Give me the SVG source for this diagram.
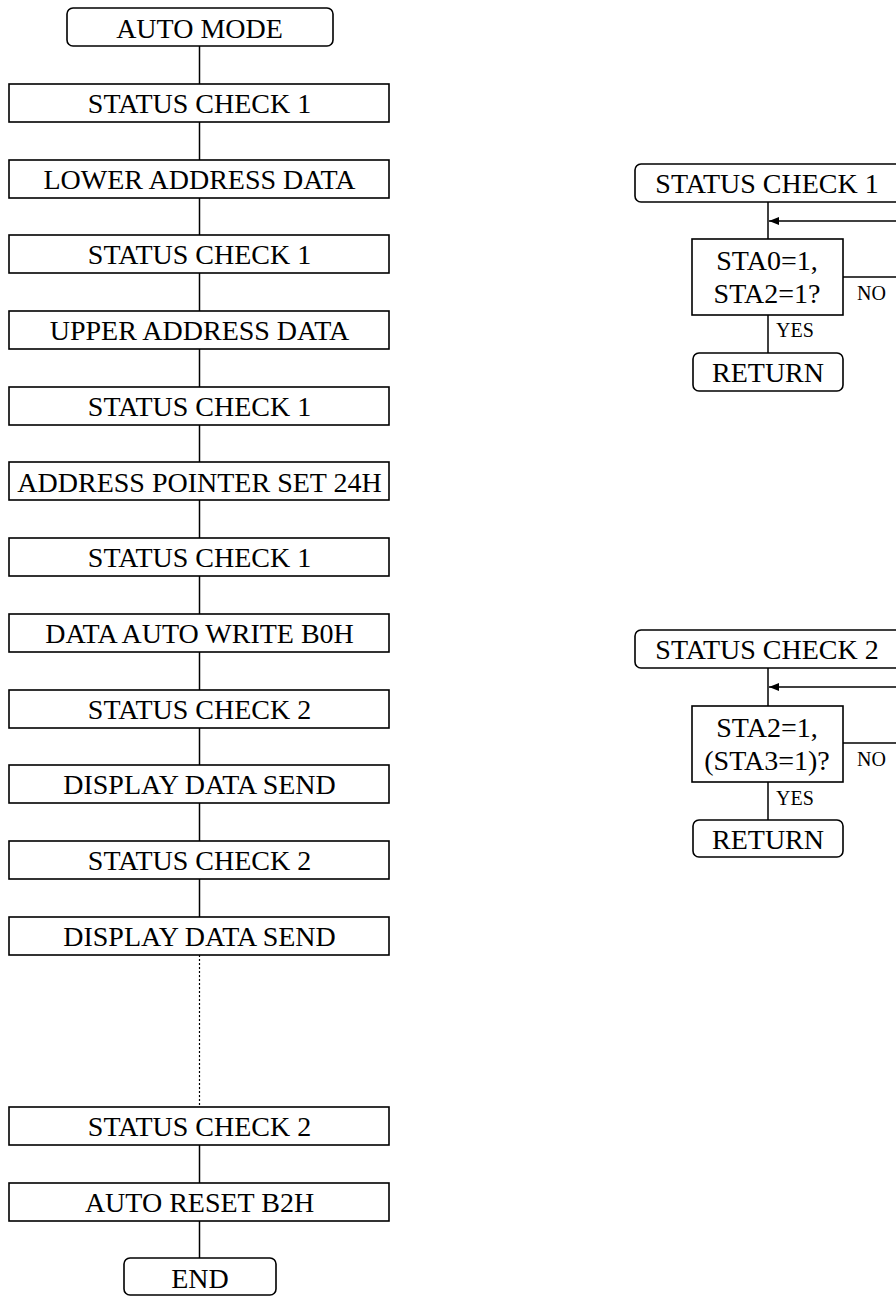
<svg xmlns="http://www.w3.org/2000/svg" width="896" height="1296" viewBox="0 0 896 1296">
  <style>
    .box { fill: #fff; stroke: #000; stroke-width: 1.6; }
    .t { font-family: "Liberation Serif", "Times New Roman", serif; font-size: 28px; fill: #000; text-anchor: middle; }
    .s { font-family: "Liberation Serif", "Times New Roman", serif; font-size: 20px; fill: #000; }
    .ln { stroke: #000; stroke-width: 1.5; fill: none; }
    .dot { stroke: #000; stroke-width: 1.2; stroke-dasharray: 2 2; fill: none; }
  </style>
  <defs>
    <marker id="arr" viewBox="0 0 10 8" refX="10" refY="4" markerWidth="10" markerHeight="8" markerUnits="userSpaceOnUse" orient="auto">
      <path d="M0,0 L10,4 L0,8 Z" fill="#000"/>
    </marker>
  </defs>

  <!-- connectors -->
  <g id="connectors">
    <line class="ln" x1="199.5" y1="46" x2="199.5" y2="84"/>
    <line class="ln" x1="199.5" y1="122" x2="199.5" y2="160"/>
    <line class="ln" x1="199.5" y1="198" x2="199.5" y2="235"/>
    <line class="ln" x1="199.5" y1="273" x2="199.5" y2="311"/>
    <line class="ln" x1="199.5" y1="349" x2="199.5" y2="387"/>
    <line class="ln" x1="199.5" y1="425" x2="199.5" y2="462"/>
    <line class="ln" x1="199.5" y1="500" x2="199.5" y2="538"/>
    <line class="ln" x1="199.5" y1="576" x2="199.5" y2="614"/>
    <line class="ln" x1="199.5" y1="652" x2="199.5" y2="690"/>
    <line class="ln" x1="199.5" y1="728" x2="199.5" y2="765"/>
    <line class="ln" x1="199.5" y1="803" x2="199.5" y2="841"/>
    <line class="ln" x1="199.5" y1="879" x2="199.5" y2="917"/>
    <line class="dot" x1="199.5" y1="955" x2="199.5" y2="1107"/>
    <line class="ln" x1="199.5" y1="1145" x2="199.5" y2="1183"/>
    <line class="ln" x1="199.5" y1="1221" x2="199.5" y2="1258"/>

    <!-- status check 1 subroutine -->
    <line class="ln" x1="768" y1="202" x2="768" y2="239"/>
    <line class="ln" x1="900" y1="221" x2="769" y2="221" marker-end="url(#arr)"/>
    <line class="ln" x1="843" y1="277" x2="900" y2="277"/>
    <line class="ln" x1="768" y1="315" x2="768" y2="353"/>

    <!-- status check 2 subroutine -->
    <line class="ln" x1="768" y1="668" x2="768" y2="706"/>
    <line class="ln" x1="900" y1="687" x2="769" y2="687" marker-end="url(#arr)"/>
    <line class="ln" x1="843" y1="743" x2="900" y2="743"/>
    <line class="ln" x1="768" y1="782" x2="768" y2="820"/>
  </g>

  <!-- main sequence -->
  <g id="auto-mode"><rect class="box" x="67" y="8" width="266" height="38" rx="6"/><text class="t" x="199.5" y="37.5">AUTO MODE</text></g>
  <g id="sc1-a"><rect class="box" x="9" y="84" width="380" height="38"/><text class="t" x="199.5" y="113">STATUS CHECK 1</text></g>
  <g id="lower-addr"><rect class="box" x="9" y="160" width="380" height="38"/><text class="t" x="199.5" y="189">LOWER ADDRESS DATA</text></g>
  <g id="sc1-b"><rect class="box" x="9" y="235" width="380" height="38"/><text class="t" x="199.5" y="264">STATUS CHECK 1</text></g>
  <g id="upper-addr"><rect class="box" x="9" y="311" width="380" height="38"/><text class="t" x="199.5" y="340">UPPER ADDRESS DATA</text></g>
  <g id="sc1-c"><rect class="box" x="9" y="387" width="380" height="38"/><text class="t" x="199.5" y="416">STATUS CHECK 1</text></g>
  <g id="addr-ptr"><rect class="box" x="9" y="462" width="380" height="38"/><text class="t" x="199.5" y="491.5">ADDRESS POINTER SET 24H</text></g>
  <g id="sc1-d"><rect class="box" x="9" y="538" width="380" height="38"/><text class="t" x="199.5" y="567">STATUS CHECK 1</text></g>
  <g id="auto-write"><rect class="box" x="9" y="614" width="380" height="38"/><text class="t" x="199.5" y="643">DATA AUTO WRITE B0H</text></g>
  <g id="sc2-a"><rect class="box" x="9" y="690" width="380" height="38"/><text class="t" x="199.5" y="719">STATUS CHECK 2</text></g>
  <g id="send-a"><rect class="box" x="9" y="765" width="380" height="38"/><text class="t" x="199.5" y="794">DISPLAY DATA SEND</text></g>
  <g id="sc2-b"><rect class="box" x="9" y="841" width="380" height="38"/><text class="t" x="199.5" y="870">STATUS CHECK 2</text></g>
  <g id="send-b"><rect class="box" x="9" y="917" width="380" height="38"/><text class="t" x="199.5" y="946">DISPLAY DATA SEND</text></g>
  <g id="sc2-c"><rect class="box" x="9" y="1107" width="380" height="38"/><text class="t" x="199.5" y="1136">STATUS CHECK 2</text></g>
  <g id="auto-reset"><rect class="box" x="9" y="1183" width="380" height="38"/><text class="t" x="199.5" y="1212">AUTO RESET B2H</text></g>
  <g id="end"><rect class="box" x="124" y="1258" width="152" height="37" rx="6"/><text class="t" x="200" y="1287.5">END</text></g>

  <!-- status check 1 routine -->
  <g id="sub1-start"><rect class="box" x="635" y="164" width="290" height="38" rx="6"/><text class="t" x="767" y="193">STATUS CHECK 1</text></g>
  <g id="sub1-test"><rect class="box" x="692" y="239" width="151" height="76"/>
    <text class="t" x="767" y="270">STA0=1,</text><text class="t" x="767" y="302.5">STA2=1?</text></g>
  <text class="s" x="857" y="300">NO</text>
  <text class="s" x="776" y="337">YES</text>
  <g id="sub1-return"><rect class="box" x="693" y="353" width="150" height="38" rx="6"/><text class="t" x="768" y="382">RETURN</text></g>

  <!-- status check 2 routine -->
  <g id="sub2-start"><rect class="box" x="635" y="630" width="290" height="38" rx="6"/><text class="t" x="767" y="659">STATUS CHECK 2</text></g>
  <g id="sub2-test"><rect class="box" x="692" y="706" width="151" height="76"/>
    <text class="t" x="767" y="737">STA2=1,</text><text class="t" x="767" y="770">(STA3=1)?</text></g>
  <text class="s" x="857" y="766">NO</text>
  <text class="s" x="776" y="805">YES</text>
  <g id="sub2-return"><rect class="box" x="693" y="820" width="150" height="37" rx="6"/><text class="t" x="768" y="848.5">RETURN</text></g>
</svg>
